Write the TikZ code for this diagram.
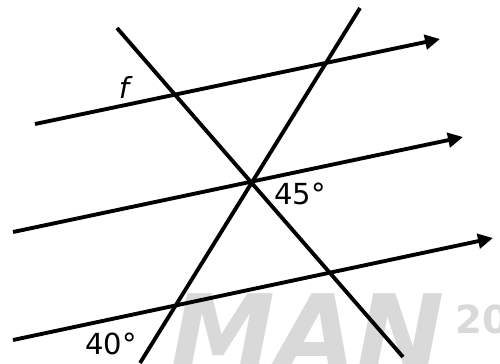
\documentclass[tikz,border=0pt]{standalone}
\usepackage{fontspec}
\setmainfont{DejaVu Sans}
\usetikzlibrary{arrows.meta}
\begin{document}
\begin{tikzpicture}[x=0.02cm,y=-0.02cm,
  ln/.style={line width=2.2pt,line cap=butt},
  arr/.style={ln,-{Triangle[length=0.3cm,width=0.29cm]}},
  lbl/.style={font=\fontsize{16.5}{17}\selectfont,inner sep=0pt},
  wm/.style={text=black!15,inner sep=0pt}]
\useasboundingbox (0,0) rectangle (500,363);
\begin{scope}
\clip (0,0) rectangle (500,363);
\node[wm,font=\fontsize{60}{60}\bfseries\itshape\selectfont,anchor=north west] (wmMAN) at (170,293) {MAN};
\node[wm,font=\fontsize{22}{22}\bfseries\selectfont,anchor=north west] (wm20) at (455,304) {20};
\end{scope}
\coordinate (p1s) at (35,124);
\coordinate (p1e) at (440,39);
\coordinate (p2s) at (13,232);
\coordinate (p2e) at (463,137);
\coordinate (p3s) at (13,340);
\coordinate (p3e) at (493,238);
\coordinate (as) at (117,28);
\coordinate (ae) at (403,357);
\coordinate (bs) at (360,8);
\coordinate (be) at (140,363);
\draw[arr] (p1s) -- (p1e);
\draw[arr] (p2s) -- (p2e);
\draw[arr] (p3s) -- (p3e);
\draw[ln] (as) -- (ae);
\draw[ln] (bs) -- (be);
\node[lbl,font=\fontsize{16.5}{17}\selectfont\itshape] (f) at (124,87) {f};
\node[lbl] (a45) at (300,194) {45°};
\node[lbl] (a40) at (111,344) {40°};
\end{tikzpicture}
\end{document}
